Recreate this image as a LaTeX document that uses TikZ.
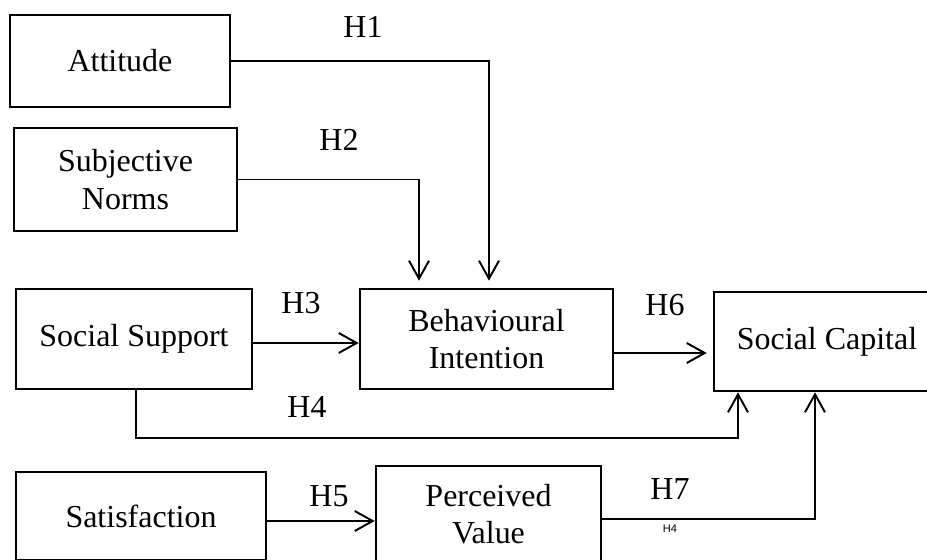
\documentclass[tikz,border=0pt]{standalone}
\usepackage{fontspec}
\setmainfont{Liberation Serif}
\newfontfamily\tinysans{Liberation Sans}
\usetikzlibrary{arrows.meta}

\begin{document}
\begin{tikzpicture}[x=0.02cm, y=-0.02cm,
  every node/.style={font=\fontsize{18.2}{21.3}\selectfont},
  box/.style={draw, line width=1.5pt, align=center, inner sep=0pt},
  link/.style={line width=1.1pt, -{Straight Barb[length=3.6mm, width=4mm]}},
  hyp/.style={inner sep=0pt}]

\useasboundingbox (0,0) rectangle (927,560);
\clip (0,0) rectangle (927,560);

% Constructs
\node[box, minimum width=4.4cm, minimum height=1.84cm] (att) at (120,61) {Attitude};
\node[box, minimum width=4.46cm, minimum height=2.06cm] (norms) at (125.5,179.5) {Subjective\\Norms};
\node[box, minimum width=4.72cm, minimum height=2.0cm] (supp) at (134,339) {Social Support};
\node[box, minimum width=5.06cm, minimum height=2.0cm] (bi) at (486.5,339) {Behavioural\\Intention};
\node[box, minimum width=4.52cm, minimum height=1.98cm] (cap) at (827,341.5) {Social Capital};
\node[box, minimum width=5.0cm, minimum height=1.76cm] (sat) at (141,516) {Satisfaction};
\node[box, minimum width=4.5cm, minimum height=1.92cm] (pv) at (488.5,514) {Perceived\\Value};

% Paths into behavioural intention
\coordinate (h1e) at ([xshift=0.05cm]bi.north);
\draw[link, shorten >=0.14cm] (att.east) -| (h1e);
\coordinate (h2e) at ([xshift=-1.35cm]bi.north);
\draw[link, shorten >=0.14cm] (norms.east) -| (h2e);
\coordinate (h3s) at ([yshift=-0.08cm]supp.east);
\draw[link] (h3s) -- (h3s -| bi.west);

% Paths into social capital
\coordinate (h6s) at ([yshift=-0.28cm]bi.east);
\draw[link, shorten >=0.12cm] (h6s) -- (h6s -| cap.west);
\coordinate (h4s) at ([xshift=0.04cm]supp.south);
\coordinate (h4e) at ([xshift=-1.78cm]cap.south);
\draw[link] (h4s) -- ++(0,48) -| (h4e);
\coordinate (h7s) at ([yshift=-0.1cm]pv.east);
\coordinate (h7e) at ([xshift=-0.24cm]cap.south);
\draw[link] (h7s) -| (h7e);

% Satisfaction to perceived value
\coordinate (h5s) at ([yshift=-0.1cm]sat.east);
\draw[link] (h5s) -- (h5s -| pv.west);

% Hypothesis labels
\node[hyp] (lh1) at (363,27) {H1};
\node[hyp] (lh2) at (339,140) {H2};
\node[hyp] (lh3) at (301,303) {H3};
\node[hyp] (lh4) at (307,407) {H4};
\node[hyp] (lh5) at (329,496) {H5};
\node[hyp] (lh6) at (665,305) {H6};
\node[hyp] (lh7) at (670,489) {H7};
\node[hyp, font=\tinysans\fontsize{6.3}{7}\selectfont] (lh4b) at (670,529) {H4};

\end{tikzpicture}
\end{document}
